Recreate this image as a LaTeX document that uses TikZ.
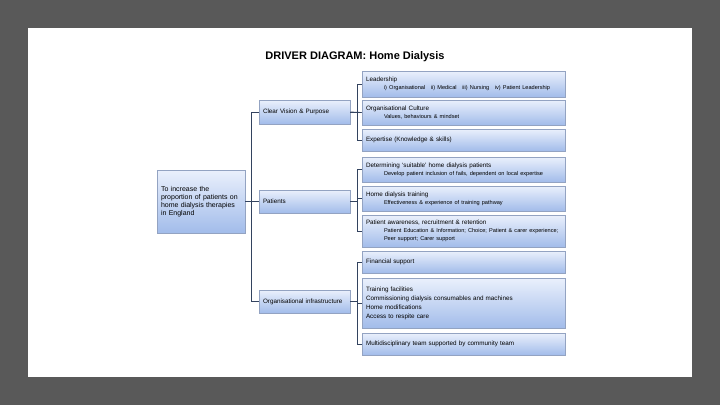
\documentclass[tikz,border=0pt]{standalone}
\usepackage{fontspec}
\setmainfont{Liberation Sans}
\usepackage{xcolor}
\usepackage{tikz}
\usetikzlibrary{shadows}
\definecolor{slidegray}{HTML}{595959}
\definecolor{boxtop}{HTML}{EAF0FC}
\definecolor{boxbottom}{HTML}{A2BCEA}
\definecolor{boxline}{HTML}{93A3C2}
\definecolor{linkline}{HTML}{33435F}
\tikzset{
  driver/.style={draw=boxline, line width=0.5pt, top color=boxtop, bottom color=boxbottom,
    align=left, inner xsep=4pt, inner ysep=2pt, anchor=center,
    font=\fontsize{6.3}{8}\selectfont,
    drop shadow={shadow xshift=1pt, shadow yshift=-1pt, opacity=0.25}},
  primary/.style={driver, text width=83pt},
  secondary/.style={driver, text width=195pt},
  link/.style={draw=linkline, line width=0.8pt}
}
\newcommand{\sub}[1]{\\\hspace*{18pt}{\fontsize{5.6}{8.5}\selectfont #1}}

\begin{document}
\begin{tikzpicture}[x=1pt, y=-1pt]
        % Slide
        \fill[slidegray] (0,0) rectangle (720,405);
        \fill[white] (28,28) rectangle (692,377);
        \node[font=\bfseries\fontsize{11}{13}\selectfont] (title) at (355,57) {DRIVER DIAGRAM: Home Dialysis};

        % Aim
        \node[driver, text width=80pt, minimum height=63pt, font=\fontsize{7}{8}\selectfont] (goal) at (201,201.5)
          {To increase the\\proportion of patients on\\home dialysis therapies\\in England};

        % Primary drivers
        \node[primary, minimum height=24pt] (vision) at (304.5,112) {Clear Vision \& Purpose};
        \node[primary, minimum height=23pt] (patients) at (304.5,201.5) {Patients};
        \node[primary, minimum height=23pt] (infra) at (304.5,301.5) {Organisational infrastructure};

        % Secondary drivers
        \node[secondary, minimum height=26pt] (lead) at (463.5,84)
          {Leadership\sub{i) Organisational\quad ii) Medical\quad iii) Nursing\quad iv) Patient Leadership}};
        \node[secondary, minimum height=25pt] (culture) at (463.5,112.5)
          {Organisational Culture\sub{Values, behaviours \& mindset}};
        \node[secondary, minimum height=22pt] (expert) at (463.5,140) {Expertise (Knowledge \& skills)};
        \node[secondary, minimum height=25pt] (suitable) at (463.5,169.5)
          {Determining `suitable' home dialysis patients\sub{Develop patient inclusion of fails, dependent on local expertise}};
        \node[secondary, minimum height=25pt] (training) at (463.5,198.5)
          {Home dialysis training\sub{Effectiveness \& experience of training pathway}};
        \node[secondary, minimum height=32pt, font=\fontsize{6.3}{8}\selectfont] (aware) at (463.5,231)
          {Patient awareness, recruitment \& retention\sub{Patient Education \& Information; Choice; Patient \& carer experience;}\sub{Peer support; Carer support}};
        \node[secondary, minimum height=22pt] (finance) at (463.5,262) {Financial support};
        \node[secondary, minimum height=50pt, font=\fontsize{6.3}{9}\selectfont] (facility) at (463.5,303)
          {Training facilities\\Commissioning dialysis consumables and machines\\Home modifications\\Access to respite care};
        \node[secondary, minimum height=22pt] (mdt) at (463.5,344) {Multidisciplinary team supported by community team};

        % Links
        \draw[link] (goal.east) -- ++(6,0) |- (vision.west);
        \draw[link] (goal.east) -- (patients.west);
        \draw[link] (goal.east) -- ++(6,0) |- (infra.west);

        \draw[link] (vision.east) -- ++(7,0) |- (lead.west);
        \draw[link] (vision.east) -- (culture.west);
        \draw[link] (vision.east) -- ++(7,0) |- (expert.west);

        \draw[link] (patients.east) -- ++(7,0) |- (suitable.west);
        \draw[link] (patients.east) -- ++(7,0) |- (training.west);
        \draw[link] (patients.east) -- ++(7,0) |- (aware.west);

        \draw[link] (infra.east) -- ++(7,0) |- (finance.west);
        \draw[link] (infra.east) -- ++(7,0) |- (facility.west);
        \draw[link] (infra.east) -- ++(7,0) |- (mdt.west);
    \end{tikzpicture}
\end{document}
